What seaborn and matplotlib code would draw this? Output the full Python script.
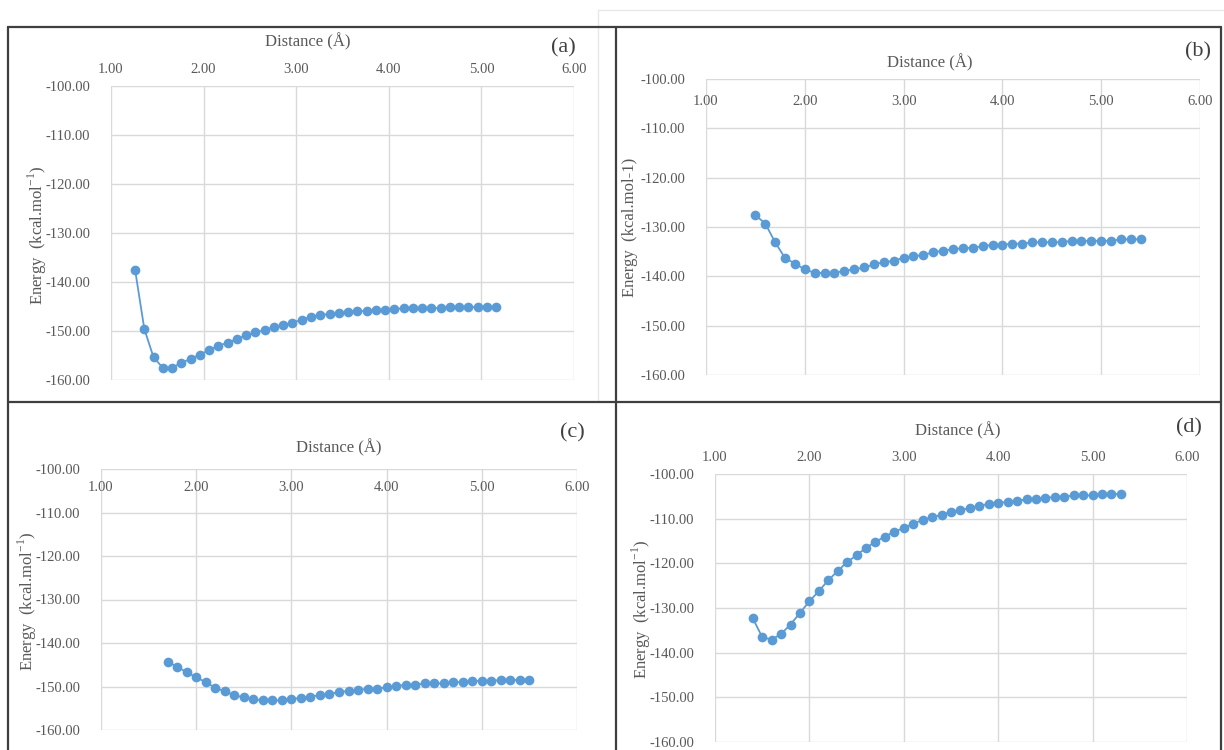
"""
Potential energy scans: energy vs. distance for four systems (a)-(d).
"""

import numpy as np
import pandas as pd
import matplotlib
matplotlib.use("Agg")
import matplotlib.pyplot as plt
from matplotlib.lines import Line2D
import seaborn as sns


# ========== Data ==========

dist_a = [1.26, 1.36, 1.46, 1.56, 1.66, 1.76, 1.86, 1.96, 2.06, 2.16,
          2.26, 2.36, 2.46, 2.56, 2.66, 2.76, 2.86, 2.96, 3.06, 3.16,
          3.26, 3.36, 3.46, 3.56, 3.66, 3.76, 3.86, 3.96, 4.06, 4.16,
          4.26, 4.36, 4.46, 4.56, 4.66, 4.76, 4.86, 4.96, 5.06, 5.16]
energy_a = [-137.5, -149.6, -155.4, -157.5, -157.5, -156.5, -155.7, -154.8, -153.9, -153.0,
            -152.4, -151.6, -150.9, -150.3, -149.8, -149.2, -148.8, -148.3, -147.7, -147.1,
            -146.8, -146.5, -146.4, -146.1, -146.0, -145.9, -145.7, -145.7, -145.6, -145.3,
            -145.3, -145.3, -145.3, -145.3, -145.1, -145.1, -145.1, -145.1, -145.1, -145.1]

dist_b = [1.5, 1.6, 1.7, 1.8, 1.9, 2.0, 2.1, 2.2, 2.3, 2.4,
          2.5, 2.6, 2.7, 2.8, 2.9, 3.0, 3.1, 3.2, 3.3, 3.4,
          3.5, 3.6, 3.7, 3.8, 3.9, 4.0, 4.1, 4.2, 4.3, 4.4,
          4.5, 4.6, 4.7, 4.8, 4.9, 5.0, 5.1, 5.2, 5.3, 5.4]
energy_b = [-127.6, -129.3, -133.1, -136.3, -137.4, -138.6, -139.3, -139.3, -139.3, -138.9,
            -138.6, -138.2, -137.6, -137.1, -136.9, -136.2, -135.9, -135.7, -135.1, -134.8,
            -134.5, -134.3, -134.2, -133.9, -133.6, -133.6, -133.4, -133.4, -133.1, -133.1,
            -133.1, -133.1, -132.8, -132.8, -132.8, -132.8, -132.8, -132.5, -132.5, -132.5]

dist_c = [1.7, 1.8, 1.9, 2.0, 2.1, 2.2, 2.3, 2.4, 2.5, 2.6,
          2.7, 2.8, 2.9, 3.0, 3.1, 3.2, 3.3, 3.4, 3.5, 3.6,
          3.7, 3.8, 3.9, 4.0, 4.1, 4.2, 4.3, 4.4, 4.5, 4.6,
          4.7, 4.8, 4.9, 5.0, 5.1, 5.2, 5.3, 5.4, 5.5]
energy_c = [-144.3, -145.5, -146.7, -147.9, -149.0, -150.3, -151.1, -152.0, -152.5, -152.9,
            -153.2, -153.2, -153.2, -152.9, -152.6, -152.3, -152.0, -151.7, -151.3, -151.0,
            -150.8, -150.5, -150.5, -150.2, -149.9, -149.6, -149.6, -149.3, -149.3, -149.3,
            -149.0, -149.0, -148.7, -148.7, -148.7, -148.5, -148.5, -148.5, -148.5]

dist_d = [1.4, 1.5, 1.6, 1.7, 1.8, 1.9, 2.0, 2.1, 2.2, 2.3,
          2.4, 2.5, 2.6, 2.7, 2.8, 2.9, 3.0, 3.1, 3.2, 3.3,
          3.4, 3.5, 3.6, 3.7, 3.8, 3.9, 4.0, 4.1, 4.2, 4.3,
          4.4, 4.5, 4.6, 4.7, 4.8, 4.9, 5.0, 5.1, 5.2, 5.3]
energy_d = [-132.3, -136.5, -137.1, -135.8, -133.7, -131.1, -128.5, -126.2, -123.8, -121.7,
            -119.7, -118.2, -116.5, -115.2, -114.0, -112.9, -112.1, -111.1, -110.3, -109.7,
            -109.1, -108.5, -108.0, -107.7, -107.1, -106.7, -106.5, -106.2, -106.0, -105.7,
            -105.7, -105.4, -105.1, -105.1, -104.8, -104.8, -104.8, -104.5, -104.5, -104.5]

x_ticks = [1, 2, 3, 4, 5, 6]
y_ticks = [-160, -150, -140, -130, -120, -110, -100]

ylabel_sup = "Energy  (kcal.mol$^{-1}$)"
ylabel_plain = "Energy  (kcal.mol-1)"


# ========== Style ==========
W, H = 1224, 750
BLUE = "#5B9BD5"
GREY_TXT = "#595959"
GRID = "#D9D9D9"
FRAME = "#3F3F3F"

sns.set_theme(style="whitegrid")
plt.rcParams["font.family"] = ["Liberation Serif", "DejaVu Serif"]
plt.rcParams["mathtext.fontset"] = "custom"
plt.rcParams["mathtext.rm"] = "Liberation Serif"


def px_box(l, t, r, b):
    """pixel box (from top-left) -> figure fraction rect"""
    return [l / W, 1 - b / H, (r - l) / W, (b - t) / H]


def fx(x):
    return x / W


def fy(y):
    return 1 - y / H


# panel specs: data, plot box in px, x label pad, title pos, tag pos, ylabel pos
panels = [
    dict(x=dist_a, y=energy_a, box=(111, 86, 574, 380), xpad=1,
         title=(308, 42), tag="(a)", tag_pos=(563, 48), ylab=ylabel_sup, ylab_pos=(37, 235)),
    dict(x=dist_b, y=energy_b, box=(706, 79, 1200, 375), xpad=-27,
         title=(930, 63), tag="(b)", tag_pos=(1198, 52), ylab=ylabel_plain, ylab_pos=(630, 227)),
    dict(x=dist_c, y=energy_c, box=(101, 469, 577, 730), xpad=-24,
         title=(339, 448), tag="(c)", tag_pos=(572, 433), ylab=ylabel_sup, ylab_pos=(27, 601)),
    dict(x=dist_d, y=energy_d, box=(715, 474, 1187, 742), xpad=1,
         title=(958, 431), tag="(d)", tag_pos=(1189, 428), ylab=ylabel_sup, ylab_pos=(641, 609)),
]

fig = plt.figure(figsize=(W / 100, H / 100), dpi=100)
fig.patch.set_facecolor("white")

for p in panels:
    ax = fig.add_axes(px_box(*p["box"]))
    df = pd.DataFrame({"distance": p["x"], "energy": p["y"]})
    sns.lineplot(data=df, x="distance", y="energy", ax=ax, color=BLUE,
                 linewidth=1.3, marker="o", markersize=7,
                 markeredgewidth=0, markerfacecolor=BLUE)

    ax.set_xlim(1, 6)
    ax.set_ylim(-160, -100)
    ax.set_xticks(x_ticks)
    ax.set_yticks(y_ticks)
    ax.set_xticklabels([f"{v:.2f}" for v in x_ticks])
    ax.set_yticklabels([f"{v:.2f}" for v in y_ticks])
    ax.set_xlabel("")
    ax.set_ylabel("")
    for s in ax.spines.values():
        s.set_visible(False)
    ax.grid(True, color=GRID, linewidth=1.0)
    ax.set_facecolor("white")

    ax.xaxis.tick_top()
    ax.tick_params(axis="x", top=False, bottom=False, labeltop=True,
                   labelbottom=False, pad=p["xpad"])
    ax.tick_params(axis="y", left=False, pad=9)
    ax.tick_params(labelsize=10.5, labelcolor=GREY_TXT)

    fig.text(fx(p["title"][0]), fy(p["title"][1]), "Distance (Å)",
             ha="center", va="center", fontsize=12, color=GREY_TXT)
    fig.text(fx(p["tag_pos"][0]), fy(p["tag_pos"][1]), p["tag"],
             ha="center", va="center", fontsize=16, color="#404040")
    fig.text(fx(p["ylab_pos"][0]), fy(p["ylab_pos"][1]), p["ylab"],
             ha="center", va="center", rotation=90, fontsize=12, color=GREY_TXT)

# faint page lines behind panel (b)
fig.add_artist(Line2D([fx(598), fx(1224)], [fy(10), fy(10)], color="#E8E8E8", lw=1))
fig.add_artist(Line2D([fx(598), fx(598)], [fy(10), fy(402)], color="#E8E8E8", lw=1))

# panel frames
frame_lines = [
    ((8, 27), (1221, 27)),
    ((8, 402), (1221, 402)),
    ((8, 27), (8, 750)),
    ((616, 27), (616, 750)),
    ((1221, 27), (1221, 750)),
]
for (x0, y0), (x1, y1) in frame_lines:
    fig.add_artist(Line2D([fx(x0), fx(x1)], [fy(y0), fy(y1)], color=FRAME, lw=1.6))

fig.savefig("out.png", dpi=100, facecolor="white")
